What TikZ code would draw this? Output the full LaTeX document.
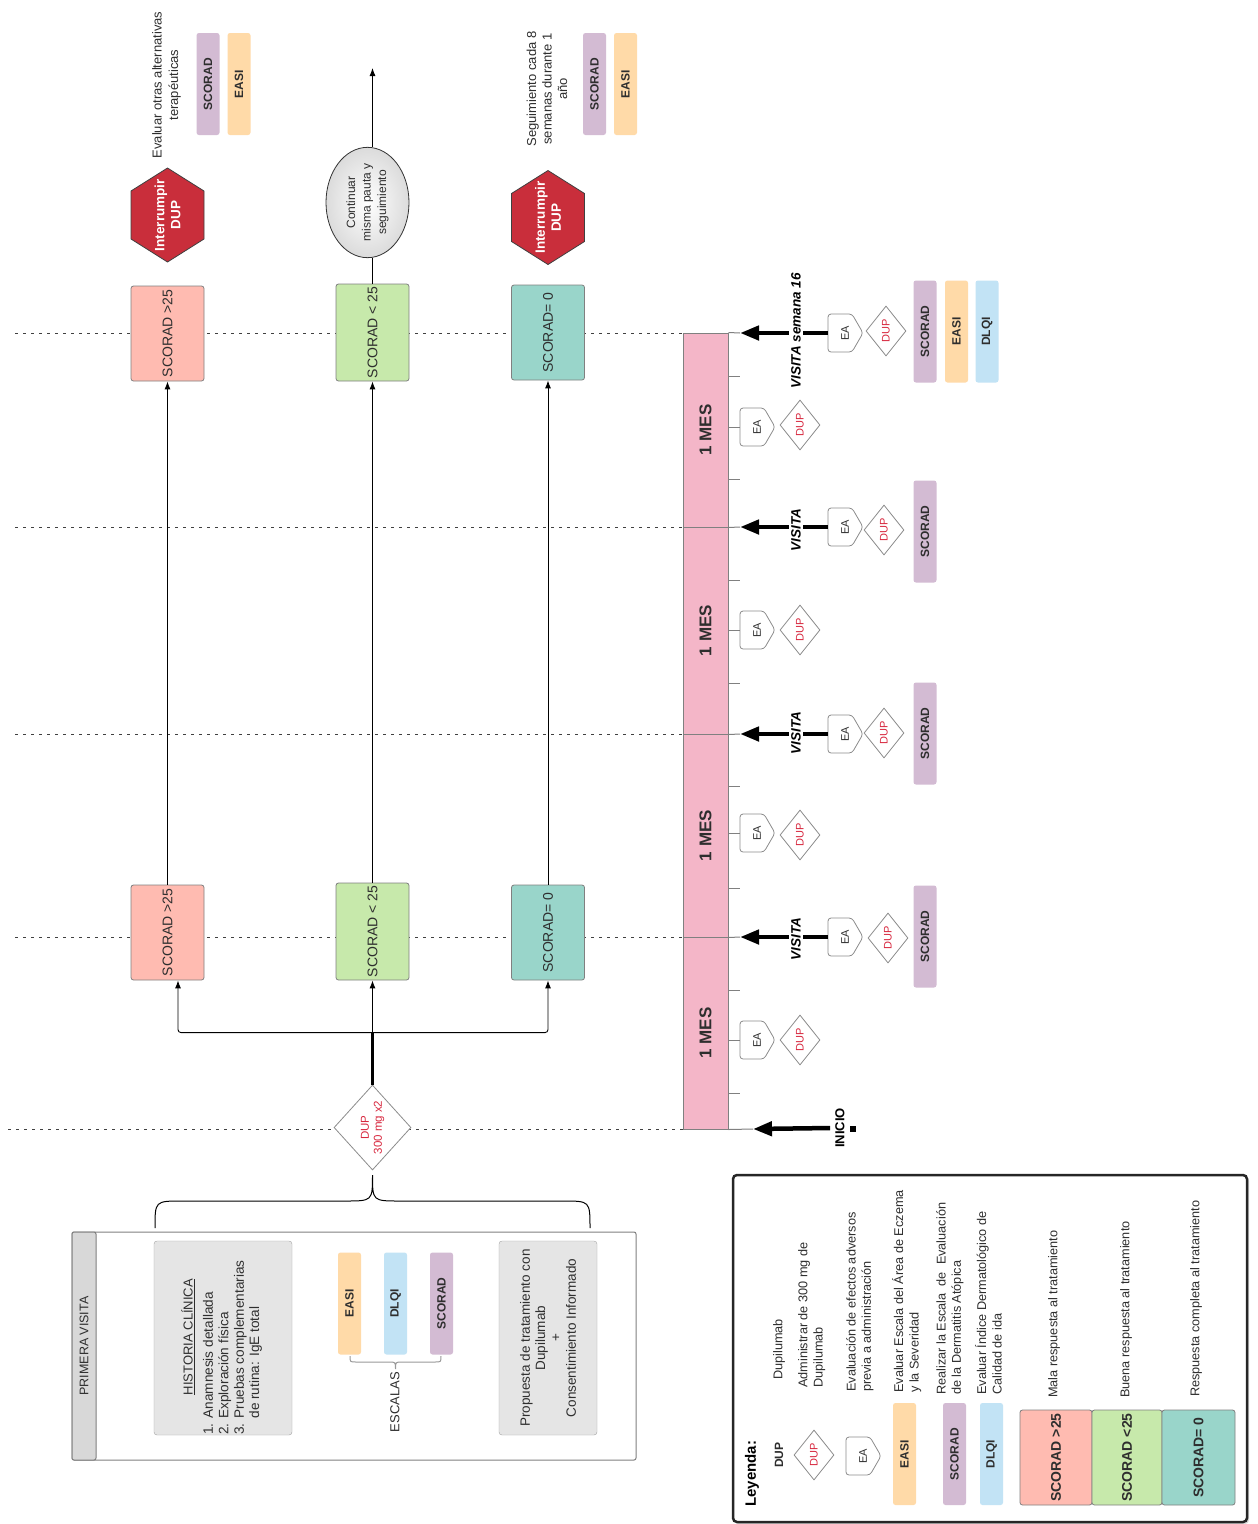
\documentclass[tikz,border=0pt]{standalone}
\usepackage{fontspec}
\setmainfont{Liberation Sans}
\usetikzlibrary{shapes.geometric,arrows.meta,shadows,calc}
\definecolor{pinkbar}{HTML}{F4B6C8}
\definecolor{cred}{HTML}{FFBBB1}
\definecolor{cgreen}{HTML}{C7E9AB}
\definecolor{cteal}{HTML}{99D5CA}
\definecolor{cpurple}{HTML}{D3BBD3}
\definecolor{corange}{HTML}{FFDAA8}
\definecolor{cblue}{HTML}{C2E3F5}
\definecolor{hexred}{HTML}{C92E3B}
\definecolor{boxgray}{HTML}{E5E5E5}
\definecolor{hdrgray}{HTML}{D8D8D8}
\definecolor{duptxt}{HTML}{D8283F}
\definecolor{bordergray}{HTML}{808080}
\definecolor{txtdark}{HTML}{2E2E2E}
\newcommand{\eanode}[3]{%
  \draw[eaborder] (#2,#3-19) -- (#2+24,#3-19) -- (#2+35,#3) -- (#2+24,#3+19) -- (#2,#3+19) -- cycle;
  \node[eatext] (#1) at (#2+17,#3) {EA};}
\newcommand{\hexnode}[3]{%
  \draw[hexborder] (#2,#3-47) -- (#2+36.5,#3-24) -- (#2+36.5,#3+24) -- (#2,#3+47) -- (#2-36.5,#3+24) -- (#2-36.5,#3-24) -- cycle;
  \node[hextext] (#1) at (#2,#3) {Interrumpir\\DUP};}
\begin{document}
\begin{tikzpicture}[x=1pt,y=-1pt,
  every node/.style={inner sep=0pt},
  resbox/.style={draw=bordergray, line width=0.8pt, rounded corners=2.5pt, rotate=90, minimum width=95pt, minimum height=73pt, font=\fontsize{14}{16}\selectfont, text=txtdark},
  scalebox/.style={rounded corners=2.5pt, rotate=90, minimum width=102pt, minimum height=23pt, font=\bfseries\fontsize{12}{14}\selectfont, text=txtdark},
  dupd/.style={diamond, draw=gray!90, line width=0.8pt, fill=white, rotate=90, minimum width=50pt, minimum height=40pt, font=\fontsize{11}{12}\selectfont, text=duptxt},
  eaborder/.style={draw=gray!90, line width=0.8pt, fill=white, rounded corners=3pt},
  eatext/.style={rotate=90, minimum width=38pt, minimum height=34pt, font=\fontsize{11}{12}\selectfont, text=txtdark},
  hexborder/.style={draw=black!75, line width=0.8pt, fill=hexred},
  hextext/.style={rotate=90, align=center, text=white, font=\bfseries\fontsize{13.5}{16}\selectfont},
  dotline/.style={line width=1pt, black!75, dash pattern=on 2.5pt off 5.5pt},
  conn/.style={line width=0.9pt, -{Latex[length=8pt,width=6pt]}},
  visarrow/.style={line width=4.5pt, -{Triangle[length=19pt,width=14pt]}},
  vistext/.style={rotate=90, fill=white, inner sep=2pt, font=\bfseries\itshape\fontsize{13.5}{15}\selectfont},
  monthbox/.style={draw=bordergray, line width=1pt, fill=pinkbar, rotate=90, minimum height=45pt, font=\bfseries\fontsize{17}{19}\selectfont, text=txtdark},
  tickline/.style={line width=1pt, bordergray},
  rtext/.style={rotate=90, font=\fontsize{13}{15.5}\selectfont, text=txtdark, align=center},
  legtext/.style={rotate=90, font=\fontsize{12.7}{15.3}\selectfont, text=txtdark, align=left, anchor=north west},
]
\fill[white] (0,0) rectangle (1258,1524);
\useasboundingbox (0,0) rectangle (1258,1524);

% dotted guide lines
\draw[dotline] (15,333) -- (683,333);
\draw[dotline] (15,527) -- (683,527);
\draw[dotline] (15,734) -- (683,734);
\draw[dotline] (15,937) -- (683,937);
\draw[dotline] (8,1129) -- (683,1129);

% timeline
\node[monthbox, minimum width=194pt] (m4) at (705.5,430) {1 MES};
\node[monthbox, minimum width=207pt] (m3) at (705.5,630.5) {1 MES};
\node[monthbox, minimum width=203pt] (m2) at (705.5,835.5) {1 MES};
\node[monthbox, minimum width=192pt] (m1) at (705.5,1033) {1 MES};
\foreach \t in {376,479,580,683,786,888,990,1093} \draw[tickline] (728,\t) -- (740,\t);

\coordinate (tipA) at (740,333);
\coordinate (tipB) at (740,527);
\coordinate (tipC) at (740,734);
\coordinate (tipD) at (740,937);
\coordinate (tipE) at (753,1129);
\draw[tickline] (m4.south east) -- (tipA);
\draw[tickline] (m4.south west) -- (tipB);
\draw[tickline] (m3.south west) -- (tipC);
\draw[tickline] (m2.south west) -- (tipD);
\draw[tickline] (m1.south west) -- (tipE);

% mid-month EA / DUP
\eanode{ea4}{740}{427} \node[dupd] (du4) at (800,425) {DUP};
\eanode{ea3}{740}{630} \node[dupd] (du3) at (800,630) {DUP};
\eanode{ea2}{740}{833} \node[dupd] (du2) at (800,835) {DUP};
\eanode{ea1}{740}{1040} \node[dupd] (du1) at (800,1040) {DUP};
\draw[tickline] (m4.south |- ea4.north) -- (ea4.north);
\draw[tickline] (m3.south |- ea3.north) -- (ea3.north);
\draw[tickline] (m2.south |- ea2.north) -- (ea2.north);
\draw[tickline] (m1.south |- ea1.north) -- (ea1.north);

% visits
\eanode{ev4}{828}{333} \node[dupd] (dv4) at (886,331) {DUP};
\eanode{ev3}{828}{527} \node[dupd] (dv3) at (884,530) {DUP};
\eanode{ev2}{828}{734} \node[dupd] (dv2) at (884,733) {DUP};
\eanode{ev1}{828}{937} \node[dupd] (dv1) at (888,938) {DUP};
\draw[visarrow] (ev4.north) -- (tipA);
\draw[visarrow] (ev3.north) -- (tipB);
\draw[visarrow] (ev2.north) -- (tipC);
\draw[visarrow] (ev1.north) -- (tipD);
\node[vistext] (vt4) at (796,331) {VISITA semana 16};
\node[vistext] (vt3) at (796,530) {VISITA};
\node[vistext] (vt2) at (796,733) {VISITA};
\node[vistext] (vt1) at (796,939) {VISITA};

\node[rotate=90, font=\bfseries\fontsize{13}{15}\selectfont] (inicio) at (840,1128) {INICIO};
\node[fill=black, minimum size=6pt] (sq) at (853,1129) {};
\draw[visarrow] ([xshift=-5pt]inicio.north) -- (tipE);

% visit scales
\node[scalebox, fill=cpurple] (vs4) at (925,331.5) {SCORAD};
\node[scalebox, fill=corange] (ve4) at (956.5,331.5) {EASI};
\node[scalebox, fill=cblue] (vd4) at (987,331.5) {DLQI};
\node[scalebox, fill=cpurple] (vs3) at (925,531.5) {SCORAD};
\node[scalebox, fill=cpurple] (vs2) at (925,733.5) {SCORAD};
\node[scalebox, fill=cpurple] (vs1) at (925,936.5) {SCORAD};

% result boxes
\node[resbox, fill=cred] (r1) at (167.5,932.5) {SCORAD >25};
\node[resbox, fill=cgreen, minimum width=97pt] (g1) at (372.5,931.5) {SCORAD < 25};
\node[resbox, fill=cteal] (t1) at (548,932.5) {SCORAD= 0};
\node[resbox, fill=cred] (r2) at (167.5,333.5) {SCORAD >25};
\node[resbox, fill=cgreen, minimum width=97pt] (g2) at (372.5,332.5) {SCORAD < 25};
\node[resbox, fill=cteal] (t2) at (548,332.5) {SCORAD= 0};

% first DUP diamond and branches
\node[dupd, minimum width=85pt, minimum height=61pt, font=\fontsize{11.5}{13}\selectfont, align=center] (d0) at (372.5,1127.5) {DUP\\300 mg x2};
\coordinate (j) at ($(d0.east)+(0,-52)$);
\draw[line width=2.2pt] (d0.east) -- (j);
\draw[conn, rounded corners=3pt] (j) -| ([xshift=10.5pt]r1.west);
\draw[conn, rounded corners=3pt] (j) -| (t1.west);
\draw[conn] (j) -- (g1.west);
\draw[conn] (r1.east) -- (r2.west);
\draw[conn] (g1.east) -- (g2.west);
\draw[conn] (t1.east) -- (t2.west);

% top outcomes
\node[ellipse, rotate=90, draw=black!80, line width=0.8pt, inner color=white, outer color=gray!28, minimum width=95pt, minimum height=83pt, align=center, font=\fontsize{12}{15.5}\selectfont, text=txtdark] (ell) at (367.5,202.5) {Continuar\\misma pauta y\\seguimiento};
\draw[line width=0.9pt] (g2.east) -- (g2.east |- ell.west);
\coordinate (goon) at (372.5,68);
\draw[conn] (g2.east |- ell.east) -- (goon);
\hexnode{h1}{167.5}{215}
\hexnode{h2}{548}{217.5}
\node[rtext, font=\fontsize{13}{16.5}\selectfont] (eval) at (166.5,85) {Evaluar otras alternativas\\terapéuticas};
\node[scalebox, fill=cpurple] (s1) at (208,84) {SCORAD};
\node[scalebox, fill=corange] (s2) at (239,84) {EASI};
\node[rtext] (seg) at (547,89) {Seguimiento cada 8\\semanas durante 1\\año};
\node[scalebox, fill=cpurple] (s3) at (594.5,84) {SCORAD};
\node[scalebox, fill=corange] (s4) at (625.5,84) {EASI};

% brace over first visit
\coordinate (btip) at (372.5,1175);
\draw[line width=1pt] (155,1228) .. controls (155,1201) .. (182,1201) -- (345,1201) .. controls (372.5,1201) .. (btip) .. controls (372.5,1201) .. (400,1201) -- (563,1201) .. controls (590,1201) .. (590,1228);

% first visit panel
\node[draw=bordergray, line width=1pt, rounded corners=2pt, minimum width=564pt, minimum height=228pt] (pv) at (354,1346) {};
\node[draw=bordergray, line width=1pt, fill=hdrgray, rounded corners=2pt, rotate=90, minimum width=228pt, minimum height=24pt, font=\fontsize{12.5}{15}\selectfont, text=txtdark] (pvh) at (84,1346) {PRIMERA VISITA};
\node[draw=gray!70, fill=boxgray, rounded corners=3pt, rotate=90, minimum width=194pt, minimum height=138pt] (hc) at (223,1338) {};
\node[rtext] (hct) at (188,1337) {\underline{HISTORIA CLÍNICA}};
\node[rtext, align=left, anchor=north west, font=\fontsize{13.6}{15.4}\selectfont] (hcl) at (202,1435) {\begin{tabular}{@{}l@{\hspace{5pt}}l@{}}1. & Anamnesis detallada\\ 2. & Exploración física\\ 3. & Pruebas complementarias\\ & de rutina: IgE total\end{tabular}};
\node[draw=gray!70, fill=boxgray, rounded corners=3pt, rotate=90, minimum width=194pt, minimum height=98pt, align=center, font=\fontsize{13.5}{15.3}\selectfont, text=txtdark] (prop) at (548,1338) {Propuesta de tratamiento con\\Dupilumab\\+\\Consentimiento Informado};
\node[scalebox, fill=corange] (pe) at (349.5,1303.5) {EASI};
\node[scalebox, fill=cblue] (pd) at (395.5,1303.5) {DLQI};
\node[scalebox, fill=cpurple] (ps) at (441.5,1303.5) {SCORAD};
\draw[gray!80, line width=1pt] (350,1356) .. controls (350,1362) .. (356,1362) -- (389,1362) .. controls (395.5,1362) .. (395.5,1369) .. controls (395.5,1362) .. (402,1362) -- (435,1362) .. controls (441,1362) .. (441,1356);
\node[rtext] (esc) at (395,1402) {ESCALAS};

% legend
\node[draw=black!85, line width=2.5pt, rounded corners=4pt, fill=white, drop shadow={opacity=0.3, shadow xshift=2pt, shadow yshift=-2pt}, minimum width=514pt, minimum height=347pt] (leg) at (990,1348.5) {};
\node[rotate=90, anchor=west, font=\bfseries\fontsize{15}{17}\selectfont] (leyenda) at (752,1507) {Leyenda:};
\node[rotate=90, anchor=west, font=\bfseries\fontsize{12}{14}\selectfont, text=txtdark] (ldup) at (779,1468) {DUP};
\node[dupd] (ldd) at (814,1455) {DUP};
\eanode{lea}{846}{1456}
\node[scalebox, fill=corange] (le) at (904.5,1454) {EASI};
\node[scalebox, fill=cpurple] (ls) at (954.5,1454) {SCORAD};
\node[scalebox, fill=cblue] (ld) at (991.5,1454) {DLQI};
\node[resbox, fill=cred, font=\bfseries\fontsize{14}{16}\selectfont, minimum height=72pt] (lr) at (1056,1457.5) {SCORAD >25};
\node[resbox, fill=cgreen, font=\bfseries\fontsize{14}{16}\selectfont, minimum height=70pt] (lg) at (1127,1457.5) {SCORAD <25};
\node[resbox, fill=cteal, font=\bfseries\fontsize{14}{16}\selectfont, minimum height=73pt] (lt) at (1198.5,1457.5) {SCORAD= 0};
\node[legtext] (l1) at (773,1380) {Dupilumab};
\node[legtext] (l2) at (798,1388) {Administrar de 300 mg de\\Dupilumab};
\node[legtext] (l3) at (846,1392) {Evaluación de efectos adversos\\previa a administración};
\node[legtext] (l4) at (892,1393) {Evaluar Escala del Área de Eczema\\y la Severidad};
\node[legtext] (l5) at (936,1395) {Realizar la Escala\ \ de\ \ Evaluación\\de la Dermatitis Atópica};
\node[legtext] (l6) at (975,1395) {Evaluar Índice Dermatológico de\\Calidad de ida};
\node[legtext] (l7) at (1048,1398) {Mala respuesta al tratamiento};
\node[legtext] (l8) at (1120,1398) {Buena respuesta al tratamiento};
\node[legtext] (l9) at (1190,1397) {Respuesta completa al tratamiento};
\end{tikzpicture}
\end{document}
